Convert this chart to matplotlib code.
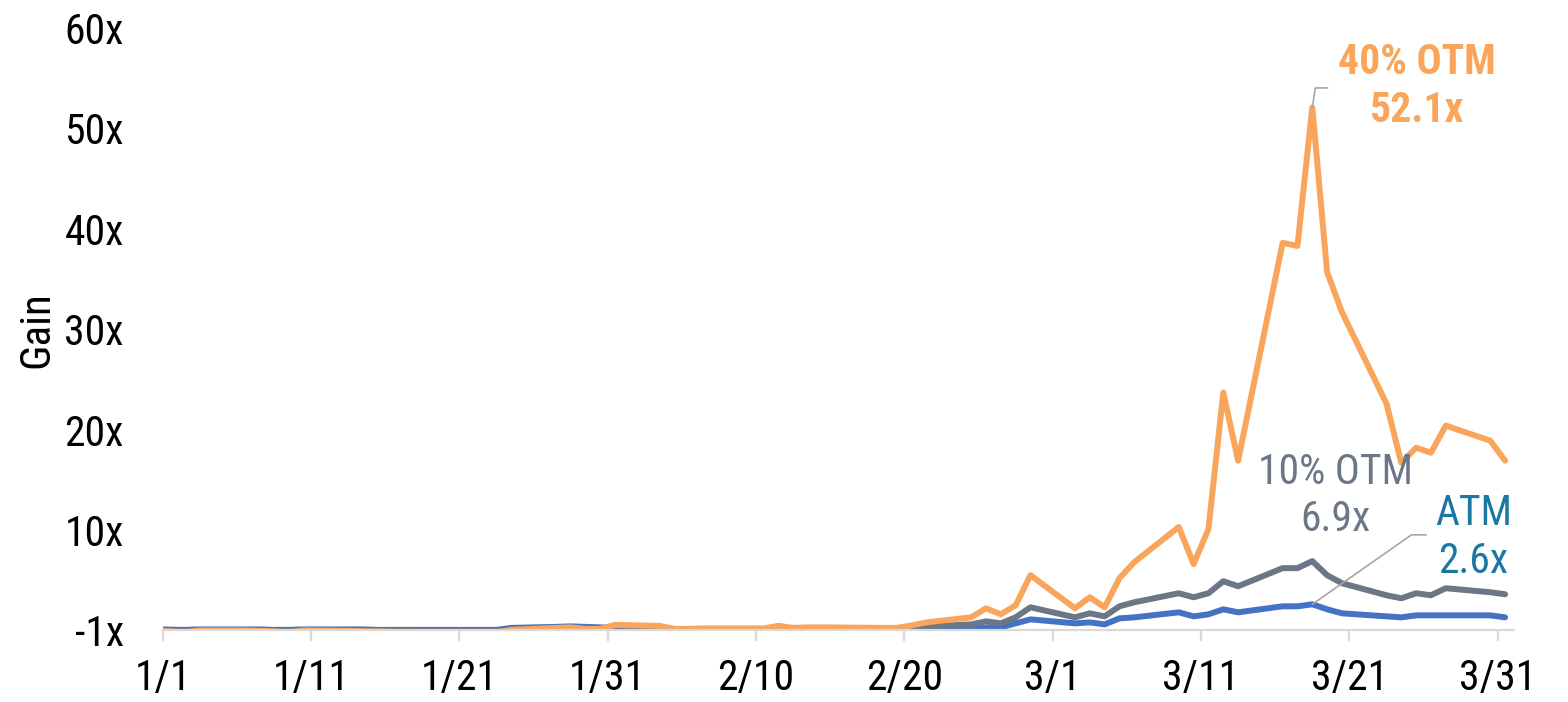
import pandas as pd
import matplotlib
matplotlib.use("Agg")
import matplotlib.pyplot as plt
from matplotlib import font_manager

# trading days, with 12/31 as the zero base point
dates = (["2019-12-31"]
         + ["2020-01-%02d" % d for d in [2, 3, 6, 7, 8, 9, 10, 13, 14, 15, 16, 17,
                                         21, 22, 23, 24, 27, 28, 29, 30, 31]]
         + ["2020-02-%02d" % d for d in [3, 4, 5, 6, 7, 10, 11, 12, 13, 14, 18, 19,
                                         20, 21, 24, 25, 26, 27, 28]]
         + ["2020-03-%02d" % d for d in [2, 3, 4, 5, 6, 9, 10, 11, 12, 13, 16, 17,
                                         18, 19, 20, 23, 24, 25, 26, 27, 30, 31]])

atm = ([0.1]
       + [0.05, 0.1, 0.1, 0.1, 0.05, 0.05, 0.1, 0.1, 0.1, 0.05, 0.05, 0.05,
          0.05, 0.05, 0.05, 0.25, 0.35, 0.4, 0.35, 0.3, 0.25]
       + [0.15, 0.05, 0.05, 0.05, 0.05, 0.05, 0.15, 0.05, 0.05, 0.05, 0.05, 0.05,
          0.1, 0.15, 0.2, 0.3, 0.3, 0.7, 1.1]
       + [0.7, 0.8, 0.6, 1.2, 1.3, 1.8, 1.4, 1.6, 2.1, 1.8, 2.4, 2.4,
          2.6, 2.1, 1.7, 1.4, 1.3, 1.5, 1.5, 1.5, 1.5, 1.3])

otm10 = ([0.0]
         + [-0.05, 0.0, 0.0, 0.0, -0.05, -0.05, 0.0, 0.0, 0.0, -0.05, -0.05, -0.05,
            -0.05, -0.05, -0.05, 0.1, 0.15, 0.2, 0.1, 0.05, 0.15]
         + [0.1, -0.05, -0.05, -0.05, -0.05, -0.05, 0.1, -0.05, 0.0, 0.0, 0.0, 0.0,
            0.2, 0.4, 0.6, 0.9, 0.7, 1.3, 2.3]
         + [1.3, 1.7, 1.4, 2.4, 2.8, 3.7, 3.3, 3.7, 4.9, 4.4, 6.2, 6.2,
            6.9, 5.5, 4.7, 3.5, 3.2, 3.7, 3.5, 4.2, 3.8, 3.6])

otm40 = ([0.0]
         + [-0.2, 0.0, 0.0, -0.05, -0.1, -0.2, 0.0, -0.05, -0.1, -0.1, -0.15, -0.15,
            -0.2, -0.2, -0.2, 0.05, 0.25, 0.3, 0.15, 0.15, 0.55]
         + [0.45, 0.15, 0.15, 0.2, 0.2, 0.2, 0.45, 0.25, 0.3, 0.3, 0.25, 0.25,
            0.5, 0.8, 1.3, 2.2, 1.6, 2.5, 5.5]
         + [2.2, 3.3, 2.3, 5.2, 6.8, 10.3, 6.6, 10.1, 23.7, 16.9, 38.6, 38.3,
            52.1, 35.7, 31.7, 22.6, 16.7, 18.2, 17.7, 20.4, 18.9, 16.9])

y_ticks = [0, 10, 20, 30, 40, 50, 60]
y_labels = ["-1x", "10x", "20x", "30x", "40x", "50x", "60x"]
x_ticks = ["2020-01-01", "2020-01-11", "2020-01-21", "2020-01-31", "2020-02-10",
           "2020-02-20", "2020-03-01", "2020-03-11", "2020-03-21", "2020-03-31"]

c_atm = "#4472C4"
c_10 = "#6B7686"
c_40 = "#F9A55B"
c_atm_txt = "#1C77A3"
c_lead = "#A6A6A6"

names = {f.name for f in font_manager.fontManager.ttflist}
font = "Roboto Condensed" if "Roboto Condensed" in names else "Roboto"
plt.rcParams["font.family"] = [font, "DejaVu Sans"]

# points sit in the middle of each day (between tick marks)
x = pd.to_datetime(dates) + pd.Timedelta(hours=12)
df = pd.DataFrame({"atm": atm, "otm10": otm10, "otm40": otm40}, index=x)

fig = plt.figure(figsize=(15.68, 7.02), dpi=100)
ax = fig.add_axes([0.1038, 0.102, 0.862, 0.858])

for col, color in [("atm", c_atm), ("otm10", c_10), ("otm40", c_40)]:
    ax.plot(df.index, df[col], color=color, lw=4.3,
            solid_joinstyle="round", solid_capstyle="round")

ax.set_xlim(pd.Timestamp("2020-01-01"), pd.Timestamp("2020-04-01") + pd.Timedelta(hours=3))
ax.set_ylim(0, 60)
ax.set_yticks(y_ticks)
ax.set_yticklabels(y_labels)
xt = pd.to_datetime(x_ticks)
ax.set_xticks(xt)
ax.set_xticklabels([f"{d.month}/{d.day}" for d in xt])

for s in ["top", "right", "left"]:
    ax.spines[s].set_visible(False)
ax.spines["bottom"].set_color("#D9D9D9")
ax.spines["bottom"].set_linewidth(1.6)
ax.tick_params(axis="y", length=0, pad=28, labelsize=30)
ax.tick_params(axis="x", length=8, width=1.6, color="#D9D9D9", pad=12, labelsize=30)
ax.set_ylabel("Gain", fontsize=31, va="center")
ax.yaxis.set_label_coords(-0.0935, 0.5)

# peak labels with leader lines
for col, color, txt, weight, lead, txt_off in [
        ("otm40", c_40, "40% OTM\n52.1x", "bold", (11, 14, 81), (75, 15)),
        ("otm10", c_10, "10% OTM\n6.9x", "normal", None, (17, 47)),
        ("atm", c_atm_txt, "ATM\n2.6x", "normal", (82, 50, 35), (116, 48))]:
    peak = df[col].idxmax()
    pv = df[col].max()
    if lead is not None:
        ax.annotate("", xy=(peak, pv), xytext=(lead[0], lead[1]), textcoords="offset points",
                    arrowprops=dict(arrowstyle="-", color=c_lead, lw=1.2, shrinkA=0, shrinkB=0,
                                    connectionstyle=f"angle,angleA=0,angleB={lead[2]},rad=0"))
    ax.annotate(txt, xy=(peak, pv), xytext=txt_off, textcoords="offset points",
                ha="center", va="center", color=color, fontsize=30, fontweight=weight,
                linespacing=1.2)

fig.savefig("out.png", dpi=100)
